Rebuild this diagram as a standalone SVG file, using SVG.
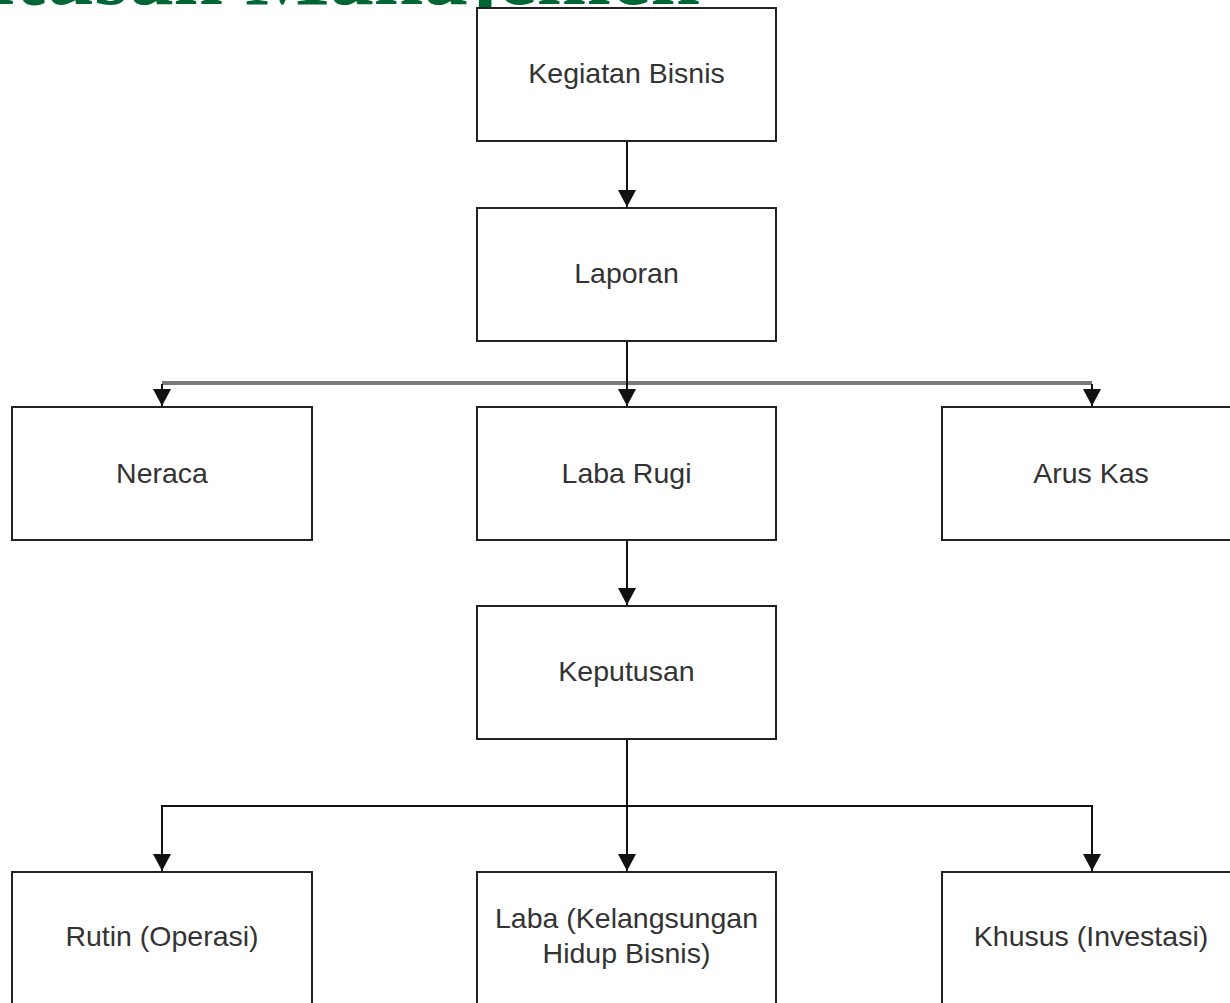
<svg xmlns="http://www.w3.org/2000/svg" width="1230" height="1003" viewBox="0 0 1230 1003">
<style>
.box{fill:#fff;stroke:#222;stroke-width:2}
.lbl{font-family:"Liberation Sans",Arial,sans-serif;font-size:28.5px;fill:#333;text-anchor:middle}
.ln{fill:none;stroke:#111;stroke-width:2}
.bus{fill:none;stroke:#7a7a7a;stroke-width:4}
.title{font-family:"Liberation Serif","Times New Roman",serif;font-weight:bold;font-size:89px;fill:#006633}
</style>
<defs>
<marker id="ah" markerUnits="userSpaceOnUse" markerWidth="20" markerHeight="18" refX="17" refY="9" orient="auto">
<path d="M0,0 L17,9 L0,18 Z" fill="#111"/>
</marker>
<clipPath id="tclip"><rect x="0" y="-100" width="1230" height="112"/></clipPath>
</defs>
<rect width="1230" height="1003" fill="#fff"/>
<text class="title" x="700" y="4" text-anchor="end" clip-path="url(#tclip)">Keputusan Manajemen</text>
<g id="connectors">
<line class="ln" x1="627" y1="141" x2="627" y2="207" marker-end="url(#ah)"/>
<line class="bus" x1="162" y1="383" x2="1092" y2="383"/>
<line class="ln" x1="627" y1="341" x2="627" y2="406" marker-end="url(#ah)"/>
<line class="ln" x1="162" y1="384" x2="162" y2="406" marker-end="url(#ah)"/>
<line class="ln" x1="1092" y1="384" x2="1092" y2="406" marker-end="url(#ah)"/>
<line class="ln" x1="627" y1="540" x2="627" y2="605" marker-end="url(#ah)"/>
<polyline class="ln" points="162,871 162,806 1092,806 1092,871" marker-end="url(#ah)"/>
<line class="ln" x1="162" y1="806" x2="162" y2="871" marker-end="url(#ah)"/>
<line class="ln" x1="627" y1="739" x2="627" y2="871" marker-end="url(#ah)"/>
</g>
<g id="kegiatan"><rect class="box" x="477" y="8" width="299" height="133"/><text class="lbl" x="626.5" y="83">Kegiatan Bisnis</text></g>
<g id="laporan"><rect class="box" x="477" y="208" width="299" height="133"/><text class="lbl" x="626.5" y="283">Laporan</text></g>
<g id="neraca"><rect class="box" x="12" y="407" width="300" height="133"/><text class="lbl" x="162" y="483">Neraca</text></g>
<g id="labarugi"><rect class="box" x="477" y="407" width="299" height="133"/><text class="lbl" x="626.5" y="483">Laba Rugi</text></g>
<g id="aruskas"><rect class="box" x="942" y="407" width="300" height="133"/><text class="lbl" x="1091" y="483">Arus Kas</text></g>
<g id="keputusan"><rect class="box" x="477" y="606" width="299" height="133"/><text class="lbl" x="626.5" y="681">Keputusan</text></g>
<g id="rutin"><rect class="box" x="12" y="872" width="300" height="133"/><text class="lbl" x="162" y="946">Rutin (Operasi)</text></g>
<g id="laba"><rect class="box" x="477" y="872" width="299" height="133"/><text class="lbl" x="626.5" y="928">Laba (Kelangsungan</text><text class="lbl" x="626.5" y="963">Hidup Bisnis)</text></g>
<g id="khusus"><rect class="box" x="942" y="872" width="300" height="133"/><text class="lbl" x="1091" y="946">Khusus (Investasi)</text></g>
</svg>
